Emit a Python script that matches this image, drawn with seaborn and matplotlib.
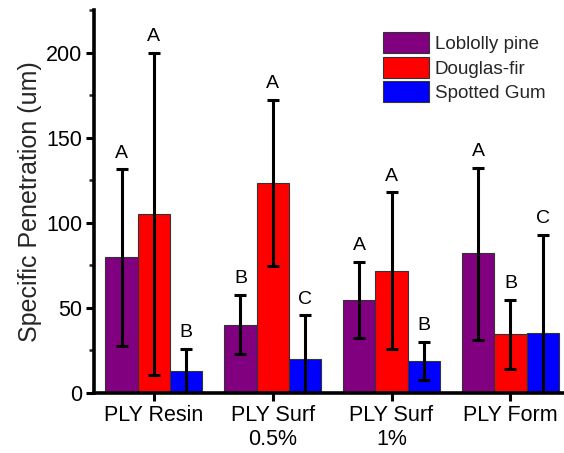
import matplotlib
matplotlib.use("Agg")
import matplotlib.pyplot as plt
from matplotlib.ticker import MultipleLocator
import seaborn as sns
import pandas as pd
import numpy as np

categories = ["PLY Resin", "PLY Surf\n0.5%", "PLY Surf\n1%", "PLY Form"]
species = ["Loblolly pine", "Douglas-fir", "Spotted Gum"]
loblolly = [79.6, 40.0, 54.7, 82.2]
douglas = [104.9, 123.3, 71.6, 34.5]
spotted = [12.7, 19.8, 18.8, 35.1]
loblolly_hi = [131.4, 57.5, 77.0, 132.4]
douglas_hi = [199.8, 172.4, 117.8, 54.7]
spotted_hi = [26.0, 45.7, 30.2, 92.9]
loblolly_lo = [27.6, 22.9, 32.2, 31.2]
douglas_lo = [10.4, 74.7, 25.7, 13.9]
spotted_lo = [0.0, 0.0, 7.5, 0.0]
loblolly_letters = ["A", "B", "A", "A"]
douglas_letters = ["A", "A", "A", "B"]
spotted_letters = ["B", "C", "B", "C"]
colors = ["#800080", "#ff0000", "#0000ff"]

sns.set_theme(style="ticks")
plt.rcParams["font.family"] = ["Liberation Sans", "DejaVu Sans"]

means = [loblolly, douglas, spotted]
his = [loblolly_hi, douglas_hi, spotted_hi]
los = [loblolly_lo, douglas_lo, spotted_lo]
letters = [loblolly_letters, douglas_letters, spotted_letters]

rows = []
for s, vals in zip(species, means):
    for c, v in zip(categories, vals):
        rows.append({"Group": c, "Species": s, "Value": v})
df = pd.DataFrame(rows)

fig = plt.figure(figsize=(5.64, 4.53), dpi=100)
ax = fig.add_axes([0.167, 0.1325, 0.833, 0.8455])
sns.barplot(data=df, x="Group", y="Value", hue="Species", order=categories,
            hue_order=species, palette=colors, errorbar=None, width=0.81,
            edgecolor="#333333", linewidth=0.8, saturation=1, ax=ax)

for i, s in enumerate(species):
    cont = ax.containers[i]
    for j, p in enumerate(cont.patches):
        x = p.get_x() + p.get_width() / 2
        m = means[i][j]
        ax.errorbar(x, m, yerr=[[m - los[i][j]], [his[i][j] - m]], fmt="none",
                    ecolor="black", elinewidth=2.2, capsize=4, capthick=2.2,
                    clip_on=True, zorder=3)
        ax.text(x, his[i][j] + 4.5, letters[i][j], ha="center", va="bottom",
                fontsize=14, color="black")

ax.set_ylim(0, 225)
ax.set_xlim(-0.5, 3.45)
ax.yaxis.set_major_locator(MultipleLocator(50))
ax.yaxis.set_minor_locator(MultipleLocator(25))
ax.set_xlabel("")
ax.set_ylabel("Specific Penetration (um)", fontsize=18, labelpad=3)
ax.tick_params(axis="both", which="major", labelsize=15.5, width=2.2, length=6,
               pad=2.5, direction="out", colors="black")
ax.tick_params(axis="y", which="minor", width=1.8, length=3.5, direction="out")
sns.despine(ax=ax, top=True, right=True)
for sp in ["left", "bottom"]:
    ax.spines[sp].set_linewidth(2.6)
    ax.spines[sp].set_color("black")

leg = ax.legend(loc="upper right", bbox_to_anchor=(0.985, 0.972), frameon=False,
                fontsize=13.6, handlelength=2.45, handleheight=1.35,
                handletextpad=0.3, labelspacing=0.18, borderaxespad=0.2)
for h in leg.legend_handles:
    h.set_edgecolor("#333333")

fig.savefig("out.png", dpi=100)
